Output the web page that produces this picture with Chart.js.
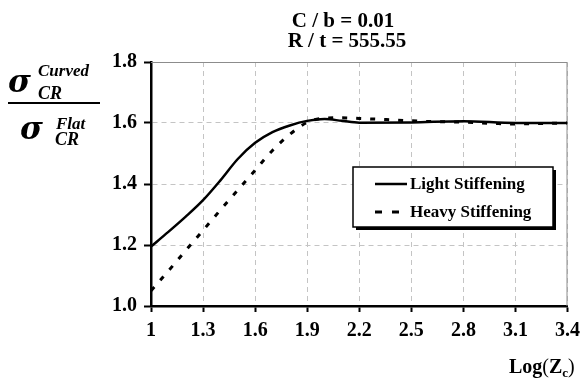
<!DOCTYPE html>
<html>
<head>
<meta charset="utf-8">
<script src="https://cdn.jsdelivr.net/npm/chart.js@4/dist/chart.umd.min.js"></script>
<style>
  html, body { margin: 0; padding: 0; background: #fff; }
  canvas { display: block; }
</style>
</head>
<body>
<canvas id="chart" width="587" height="383"></canvas>
<script>
// values
const lightX = [1.0, 1.1, 1.2, 1.3, 1.4, 1.5, 1.6, 1.7, 1.8, 1.9, 2.0, 2.1, 2.2, 2.5, 2.8, 3.1, 3.4];
const lightY = [1.195, 1.243, 1.293, 1.347, 1.412, 1.482, 1.535, 1.570, 1.592, 1.607, 1.613, 1.607, 1.601, 1.602, 1.606, 1.600, 1.600];

const heavyX = [1.0, 1.1, 1.2, 1.3, 1.4, 1.5, 1.6, 1.7, 1.8, 1.9, 2.0, 2.1, 2.2, 2.4, 2.6, 2.8, 3.0, 3.1, 3.2, 3.4];
const heavyY = [1.05, 1.115, 1.182, 1.248, 1.315, 1.38, 1.445, 1.51, 1.563, 1.602, 1.616, 1.617, 1.615, 1.610, 1.605, 1.603, 1.598, 1.597, 1.598, 1.600];

const xTicks = [1, 1.3, 1.6, 1.9, 2.2, 2.5, 2.8, 3.1, 3.4];
const yTicks = [1.0, 1.2, 1.4, 1.6, 1.8];

const titleLines = ['C / b = 0.01', 'R / t = 555.55'];
const seriesNames = ['Light Stiffening', 'Heavy Stiffening'];

const SERIF = "'Liberation Serif', 'Times New Roman', serif";

const toPoints = (xs, ys) => xs.map((x, i) => ({ x: x, y: ys[i] }));

// titles, y fraction label, x label, legend box, top/right frame
const extras = {
  id: 'extras',
  beforeDatasetsDraw(chart) {
    const { ctx, chartArea: a } = chart;
    ctx.save();
    ctx.strokeStyle = '#8c8c8c';
    ctx.lineWidth = 1;
    ctx.beginPath();
    ctx.moveTo(a.left, a.top + 0.5);
    ctx.lineTo(a.right - 0.5, a.top + 0.5);
    ctx.lineTo(a.right - 0.5, a.bottom);
    ctx.stroke();
    ctx.restore();
  },
  afterDraw(chart) {
    const { ctx } = chart;
    ctx.save();
    ctx.fillStyle = '#000';

    // title
    ctx.font = 'bold 21px ' + SERIF;
    ctx.textAlign = 'center';
    ctx.textBaseline = 'alphabetic';
    ctx.fillText(titleLines[0], 343, 27);
    ctx.fillText(titleLines[1], 347, 47);

    // y axis label: sigma_CR^Curved / sigma_CR^Flat
    ctx.textAlign = 'left';
    ctx.font = "bold italic 31px 'DejaVu Serif', serif";
    ctx.fillText('\u03C3', 8, 92);
    ctx.fillText('\u03C3', 20, 139);
    ctx.font = 'bold italic 17px ' + SERIF;
    ctx.fillText('Curved', 38, 76);
    ctx.fillText('Flat', 56, 129);
    ctx.font = 'bold italic 18px ' + SERIF;
    ctx.fillText('CR', 38, 99);
    ctx.fillText('CR', 55, 145);
    ctx.fillRect(8, 102, 92, 2);

    // x axis label Log(Zc)
    ctx.font = 'bold 20px ' + SERIF;
    let x = 509;
    ctx.fillText('Log', x, 373);
    x += ctx.measureText('Log').width;
    ctx.font = '20px ' + SERIF;
    ctx.fillText('(', x, 373);
    x += ctx.measureText('(').width;
    ctx.font = 'bold 20px ' + SERIF;
    ctx.fillText('Z', x, 373);
    x += ctx.measureText('Z').width;
    ctx.font = 'bold 13px ' + SERIF;
    ctx.fillText('c', x, 377);
    x += ctx.measureText('c').width;
    ctx.font = '20px ' + SERIF;
    ctx.fillText(')', x, 373);

    // legend with drop shadow
    const lx = 353, ly = 167, lw = 200, lh = 60;
    ctx.fillRect(lx + 3, ly + 3, lw, lh);
    ctx.fillStyle = '#fff';
    ctx.fillRect(lx, ly, lw, lh);
    ctx.strokeStyle = '#000';
    ctx.lineWidth = 1.5;
    ctx.strokeRect(lx, ly, lw, lh);

    const rows = [184, 212];
    chart.data.datasets.forEach((ds, i) => {
      ctx.beginPath();
      ctx.lineWidth = ds.borderWidth;
      ctx.setLineDash(i === 0 ? [] : [7, 10]);
      ctx.moveTo(375, rows[i]);
      ctx.lineTo(407, rows[i]);
      ctx.stroke();
      ctx.setLineDash([]);
      ctx.fillStyle = '#000';
      ctx.font = 'bold 17px ' + SERIF;
      ctx.textBaseline = 'middle';
      ctx.fillText(ds.label, 410, rows[i] + 1);
    });
    ctx.restore();
  }
};

new Chart(document.getElementById('chart'), {
  type: 'line',
  data: {
    datasets: [
      {
        label: seriesNames[0],
        data: toPoints(lightX, lightY),
        borderColor: '#000',
        borderWidth: 2.5,
        pointRadius: 0,
        cubicInterpolationMode: 'monotone',
        fill: false,
      },
      {
        label: seriesNames[1],
        data: toPoints(heavyX, heavyY),
        borderColor: '#000',
        borderWidth: 3,
        borderDash: [5, 9],
        borderCapStyle: 'butt',
        pointRadius: 0,
        cubicInterpolationMode: 'monotone',
        fill: false,
      },
    ],
  },
  options: {
    responsive: false,
    animation: false,
    layout: { padding: { top: 62, right: 14, left: 0, bottom: 0 } },
    plugins: {
      legend: { display: false },
      title: { display: false },
      tooltip: { enabled: false },
    },
    scales: {
      x: {
        type: 'linear',
        min: 1,
        max: 3.4,
        afterBuildTicks: (s) => { s.ticks = xTicks.map((v) => ({ value: v })); },
        afterFit: (s) => { s.height = 77; },
        ticks: {
          color: '#000',
          font: { family: SERIF, size: 20, weight: 'bold' },
          padding: 7,
          maxRotation: 0,
          autoSkip: false,
          callback: (v) => String(v),
        },
        grid: { color: '#c4c4c4', lineWidth: 1, tickLength: 6, tickColor: '#000', tickWidth: 2 },
        border: { color: '#000', width: 2.5, dash: [5, 4] },
      },
      y: {
        min: 1,
        max: 1.8,
        afterBuildTicks: (s) => { s.ticks = yTicks.map((v) => ({ value: v })); },
        afterFit: (s) => { s.width = 151; },
        ticks: {
          color: '#000',
          font: { family: SERIF, size: 20, weight: 'bold' },
          padding: 7,
          autoSkip: false,
          callback: (v) => v.toFixed(1),
        },
        grid: { color: '#c4c4c4', lineWidth: 1, tickLength: 7, tickColor: '#000', tickWidth: 2 },
        border: { color: '#000', width: 2.5, dash: [5, 4] },
      },
    },
  },
  plugins: [extras],
});
</script>
</body>
</html>
